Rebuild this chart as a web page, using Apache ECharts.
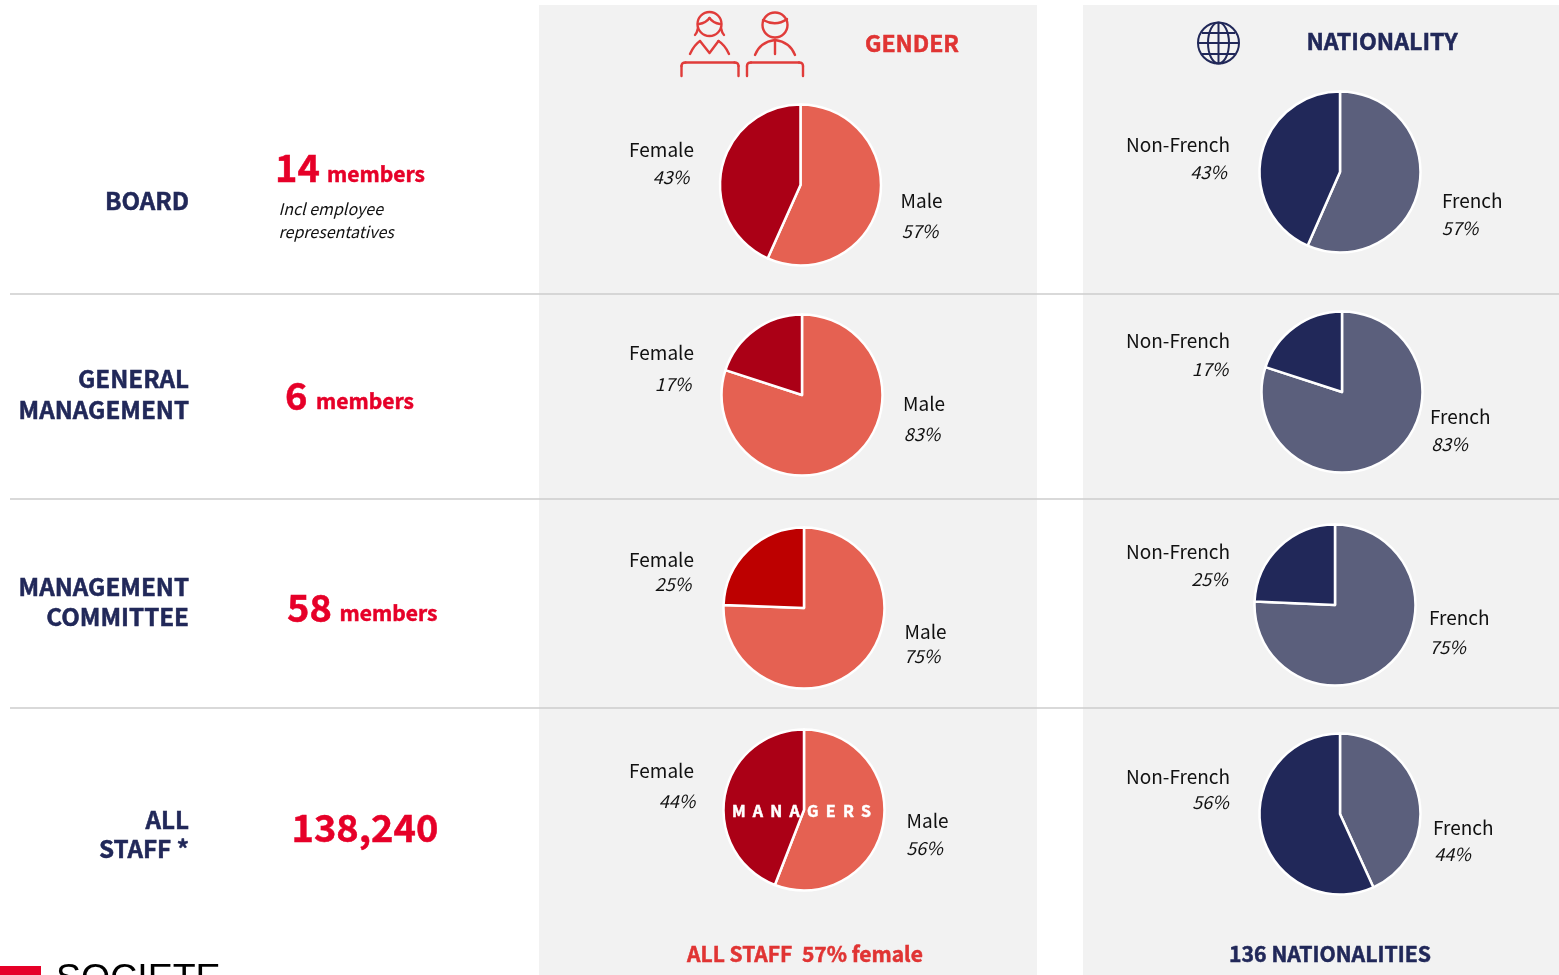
<!DOCTYPE html>
<html><head><meta charset="utf-8">
<style>html,body{margin:0;padding:0;background:#fff;overflow:hidden}#c{width:1559px;height:975px}</style>
<script src="https://cdn.jsdelivr.net/npm/echarts@6/dist/echarts.min.js"></script></head>
<body><div id="c"></div>
<script>
// ---------- data ----------
const rows = ['BOARD','GENERAL\nMANAGEMENT','MANAGEMENT\nCOMMITTEE','ALL\nSTAFF *'];
const counts = ['14','6','58','138,240'];
const countUnit = [' members',' members',' members',''];
const genderNames = ['Male','Female'];
const natNames = ['French','Non-French'];
const genderMale = [56.7,80,75.6,55.9];
const genderFemale = [43.3,20,24.4,44.1];
const natFrench = [56.6,80,75.7,43.2];
const natOther = [43.4,20,24.3,56.8];
const maleLabels = ['57%','83%','75%','56%'];
const femaleLabels = ['43%','17%','25%','44%'];
const frenchLabels = ['57%','83%','75%','44%'];
const otherLabels = ['43%','17%','25%','56%'];
// ---------- layout & style ----------
const F = '"Noto Sans CJK SC","Noto Sans",sans-serif';
const RED='#e60028', NAVY='#212859', TITLE='#e03433';
const gPie = [[800.5,185],[802,395],[804,608],[804,810]];
const nPie = [[1340,172],[1342,392],[1335,605],[1340,814]];
const gDark = ['#ab0016','#ab0016','#bd0000','#ab0016'];
const labelPos = {
  gF:[[694,150,671,177],[694,353,673,384],[694,560,673,584],[694,771,677,801]],
  gM:[[900.5,201,920,231],[903,404,922,434],[904.5,632,922,656],[906.5,821,924.5,848]],
  nF:[[1230,145,1208.5,172],[1230,341,1210,369],[1230,552,1209.5,579],[1230,777,1210.5,802]],
  nM:[[1442,201,1460,228],[1430,417,1449.5,444],[1429,618,1447.5,647],[1433,828,1452.5,854]]
};
const rowLabelY = [[200.5],[379,410],[587,617],[820,849]];
const countPos = [[275,168,327,174],[285,396,316,401],[287,608,339.5,613],[291.5,828,0,0]];

function txt(x,y,s,o){return {type:'text',silent:true,x,y,z:o.z||5,style:Object.assign({text:s,fontFamily:F,fontSize:19,fill:'#111',align:'left',verticalAlign:'middle'},o.s||{})};}
const bold=(c,size,extra)=>Object.assign({fontSize:size,fontWeight:'bold',fill:c,stroke:c,lineWidth:0.5},extra||{});
function pie(c,vals,names,cols){
  return {type:'pie',center:c,radius:[0,80.5],startAngle:90,clockwise:true,silent:true,animation:false,
    label:{show:false},labelLine:{show:false},z:3,
    itemStyle:{borderColor:'#fff',borderWidth:2.5},
    data:vals.map((v,i)=>({value:v,name:names[i],itemStyle:{color:cols[i]}}))};
}
const series=[];
rows.forEach((r,i)=>{
  series.push(pie(gPie[i],[genderMale[i],genderFemale[i]],genderNames,['#e56152',gDark[i]]));
  series.push(pie(nPie[i],[natFrench[i],natOther[i]],natNames,['#5b5f7c',NAVY]));
});
const g=[];
// panels
g.push({type:'rect',silent:true,z:0,shape:{x:539,y:5,width:498,height:970},style:{fill:'#f2f2f2'}});
g.push({type:'rect',silent:true,z:0,shape:{x:1083,y:5,width:476,height:970},style:{fill:'#f2f2f2'}});
[294,499,708].forEach(y=>g.push({type:'line',silent:true,z:1,shape:{x1:10,y1:y,x2:1559,y2:y},style:{stroke:'#cdcdcd',lineWidth:1.4}}));
// row labels
const pct={fontStyle:'italic',fontSize:18,align:'center'};
rows.forEach((r,i)=>{
  r.split('\n').forEach((line,k)=>g.push(txt(189,rowLabelY[i][k],line,{s:bold(NAVY,24.2,{align:'right'})})));
  const p=countPos[i];
  g.push(txt(p[0],p[1],counts[i],{s:bold(RED,38)}));
  if(countUnit[i]) g.push(txt(p[2],p[3],countUnit[i].trim(),{s:bold(RED,21)}));
  const L=labelPos;
  g.push(txt(L.gF[i][0],L.gF[i][1],genderNames[1],{s:{align:'right'}}));
  g.push(txt(L.gF[i][2],L.gF[i][3],femaleLabels[i],{s:pct}));
  g.push(txt(L.gM[i][0],L.gM[i][1],genderNames[0],{}));
  g.push(txt(L.gM[i][2],L.gM[i][3],maleLabels[i],{s:pct}));
  g.push(txt(L.nF[i][0],L.nF[i][1],natNames[1],{s:{align:'right'}}));
  g.push(txt(L.nF[i][2],L.nF[i][3],otherLabels[i],{s:pct}));
  g.push(txt(L.nM[i][0],L.nM[i][1],natNames[0],{}));
  g.push(txt(L.nM[i][2],L.nM[i][3],frenchLabels[i],{s:pct}));
});
g.push(txt(278.5,209,'Incl employee',{s:{fontStyle:'italic',fontSize:16}}));
g.push(txt(278.5,232,'representatives',{s:{fontStyle:'italic',fontSize:16}}));
// headings
g.push(txt(912,43.5,'GENDER',{s:bold(TITLE,23,{align:'center'})}));
g.push(txt(1382,41.5,'NATIONALITY',{s:bold(NAVY,23.2,{align:'center'})}));
g.push(txt(805,954,'ALL STAFF  57% female',{s:bold(TITLE,21,{align:'center'})}));
g.push(txt(1330,954,'136 NATIONALITIES',{s:bold(NAVY,21.2,{align:'center'})}));
g.push(txt(801.5,811,'M  A  N  A  G  E  R  S',{z:10,s:bold('#fff',16,{align:'center'})}));
// logo
g.push({type:'rect',silent:true,z:1,shape:{x:0,y:966,width:41,height:9},style:{fill:RED}});
g.push(txt(56,979.5,'SOCIETE',{s:{fontFamily:'"Liberation Sans",sans-serif',fontSize:37.5,fill:'#000'}}));
// icons
const ic={stroke:'#e03c3a',lineWidth:2.4,fill:null,lineCap:'round',lineJoin:'round'};
const q=(a,b,c,d,e,f,st)=>({type:'bezierCurve',silent:true,z:5,shape:{x1:a,y1:b,cpx1:c,cpy1:d,x2:e,y2:f},style:st||ic});
const ln=(a,b,c,d,st)=>({type:'line',silent:true,z:5,shape:{x1:a,y1:b,x2:c,y2:d},style:st||ic});
const pl=(pts)=>({type:'polyline',silent:true,z:5,shape:{points:pts},style:ic});
// woman
g.push({type:'circle',silent:true,z:5,shape:{cx:709.5,cy:24,r:12},style:ic});
g.push(q(699,24,706,23,709.5,18), q(709.5,18,713,23,720,24));
g.push(q(698,28,697,33,695,35), q(721,28,722,33,724,35));
g.push(q(690,54,694,45,700,41), pl([[700,41],[709.5,53],[718.5,41]]), q(718.5,41,725,45,729,54));
const desk=(l,r)=>{g.push(pl([[l,76],[l,66]]),q(l,66,l,62.5,l+4,62.5),pl([[l+4,62.5],[r-4,62.5]]),q(r-4,62.5,r,62.5,r,66),pl([[r,66],[r,76]]));};
desk(681.5,738.5);
// man
g.push({type:'circle',silent:true,z:5,shape:{cx:775,cy:25,r:12.5},style:ic});
g.push(q(763,20,776,27,787,19));
g.push(q(755,55,760,42,775,40), q(775,40,790,42,795,55), ln(775,40,775,54));
desk(747,803);
// globe
const gl={stroke:NAVY,lineWidth:2,fill:null};
g.push({type:'circle',silent:true,z:5,shape:{cx:1218.5,cy:43,r:20.5},style:gl});
g.push({type:'ellipse',silent:true,z:5,shape:{cx:1218.5,cy:43,rx:10.5,ry:20.5},style:gl});
g.push(ln(1218.5,22.5,1218.5,63.5,gl),ln(1198,43,1239,43,gl),ln(1202,33,1235,33,gl),ln(1202,54,1235,54,gl));
echarts.init(document.getElementById('c'),null,{renderer:'canvas'}).setOption({animation:false,backgroundColor:'#fff',tooltip:{show:false},series,graphic:{elements:g}});
</script></body></html>
